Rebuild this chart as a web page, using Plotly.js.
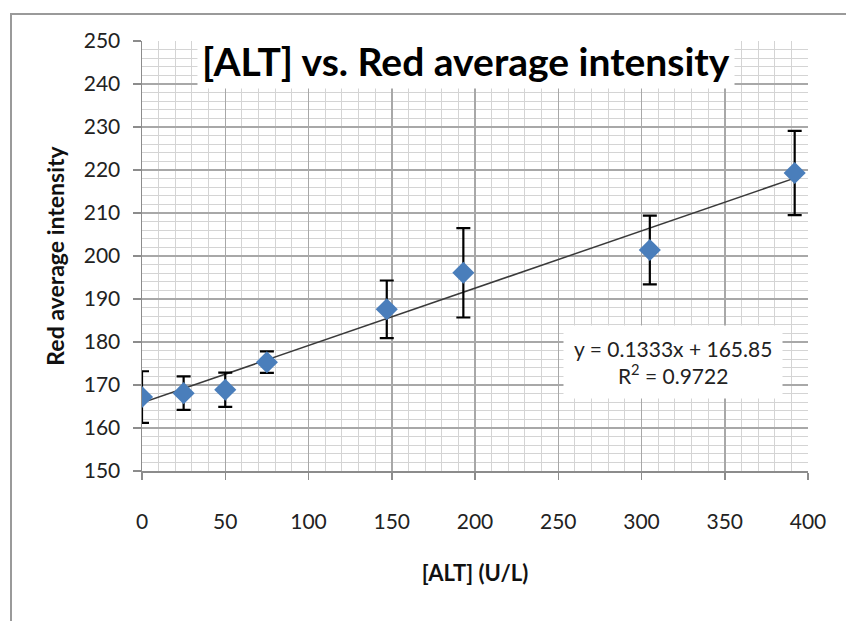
<!DOCTYPE html>
<html>
<head>
<meta charset="utf-8">
<script src="https://cdn.plot.ly/plotly-3.0.1.min.js"></script>
<style>
  html, body { margin: 0; padding: 0; background: #fff; }
  #wrap { position: relative; width: 846px; height: 621px; overflow: hidden; }
  #frame { position: absolute; left: 10px; top: 13px; width: 900px; height: 700px;
           border-left: 2px solid #9a9a9a; border-top: 2px solid #9a9a9a; pointer-events: none; }
  #chart { position: absolute; left: 0; top: 0; width: 846px; height: 621px; }
</style>
</head>
<body>
<div id="wrap">
  <div id="chart"></div>
  <div id="frame"></div>
</div>
<script>
// Data
const altConc = [0, 25, 50, 75, 147, 193, 305, 392];
const redIntensity = [167.2, 168.1, 168.9, 175.3, 187.6, 196.1, 201.4, 219.3];
const errorSize = [6.0, 3.9, 4.0, 2.5, 6.7, 10.4, 8.0, 9.8];

// Linear trendline as reported on the chart
const trendSlope = 0.1333;
const trendIntercept = 165.85;
const trendX = [Math.min(...altConc), Math.max(...altConc)];
const trendY = trendX.map(x => trendSlope * x + trendIntercept);

const xTicks = [0, 50, 100, 150, 200, 250, 300, 350, 400];
const yTicks = [150, 160, 170, 180, 190, 200, 210, 220, 230, 240, 250];

const titleText = "[ALT] vs. Red average intensity";
const xTitle = "[ALT] (U/L)";
const yTitle = "Red average intensity";
const eqText = "y = 0.1333x + 165.85<br>R<sup>2</sup> = 0.9722";

const FONT = "Lato, 'Noto Sans', sans-serif";

const traces = [
  {
    x: trendX, y: trendY, type: 'scatter', mode: 'lines',
    line: { color: '#3a3a3a', width: 1.5 }, hoverinfo: 'skip', showlegend: false
  },
  {
    x: altConc, y: redIntensity, type: 'scatter', mode: 'markers',
    marker: { symbol: 'diamond', size: 17, color: '#4a7ebb' },
    error_y: { type: 'data', array: errorSize, visible: true, color: '#000', thickness: 2.2, width: 7 },
    showlegend: false
  }
];

const layout = {
  width: 846, height: 621,
  margin: { l: 142, r: 38, t: 41, b: 150 },
  paper_bgcolor: 'rgba(0,0,0,0)',
  plot_bgcolor: '#fff',
  font: { family: FONT, color: '#222' },
  showlegend: false,
  xaxis: {
    range: [0, 400], tickvals: xTicks, ticktext: xTicks.map(String),
    showgrid: true, gridcolor: '#a8a8a8', gridwidth: 1.5,
    minor: { dtick: 10, showgrid: true, gridcolor: '#d4d4d4', gridwidth: 1 },
    showline: true, linecolor: '#8c8c8c', linewidth: 1.5,
    ticks: 'outside', ticklen: 7, tickcolor: '#8c8c8c', tickwidth: 1.5,
    ticklabelstandoff: 24,
    tickfont: { size: 21, family: FONT, color: '#222' },
    zeroline: false,
    title: { text: xTitle, font: { size: 22, family: FONT, color: '#111', weight: 'bold' }, standoff: 34 }
  },
  yaxis: {
    range: [150, 250], tickvals: yTicks, ticktext: yTicks.map(String),
    showgrid: true, gridcolor: '#a8a8a8', gridwidth: 1.5,
    minor: { dtick: 2, showgrid: true, gridcolor: '#d4d4d4', gridwidth: 1 },
    showline: true, linecolor: '#8c8c8c', linewidth: 1.5,
    ticks: 'outside', ticklen: 8, tickcolor: '#8c8c8c', tickwidth: 1.5,
    ticklabelstandoff: 8,
    tickfont: { size: 21, family: FONT, color: '#222' },
    zeroline: false,
    title: { text: yTitle, font: { size: 23, family: FONT, color: '#111', weight: 'bold' }, standoff: 12 }
  },
  annotations: [
    {
      xref: 'paper', yref: 'paper', x: 0.486, y: 0.953, xanchor: 'center', yanchor: 'middle',
      text: '<b>' + titleText + '</b>', showarrow: false,
      font: { size: 39, family: FONT, color: '#000' },
      bgcolor: '#fff', borderpad: 4
    },
    {
      xref: 'paper', yref: 'paper', x: 0.797, y: 0.253, xanchor: 'center', yanchor: 'middle',
      text: eqText, showarrow: false, align: 'center',
      font: { size: 21, family: FONT, color: '#222' },
      bgcolor: '#fff', borderpad: 10
    }
  ]
};

Plotly.newPlot('chart', traces, layout, { displayModeBar: false, staticPlot: true });
</script>
</body>
</html>
